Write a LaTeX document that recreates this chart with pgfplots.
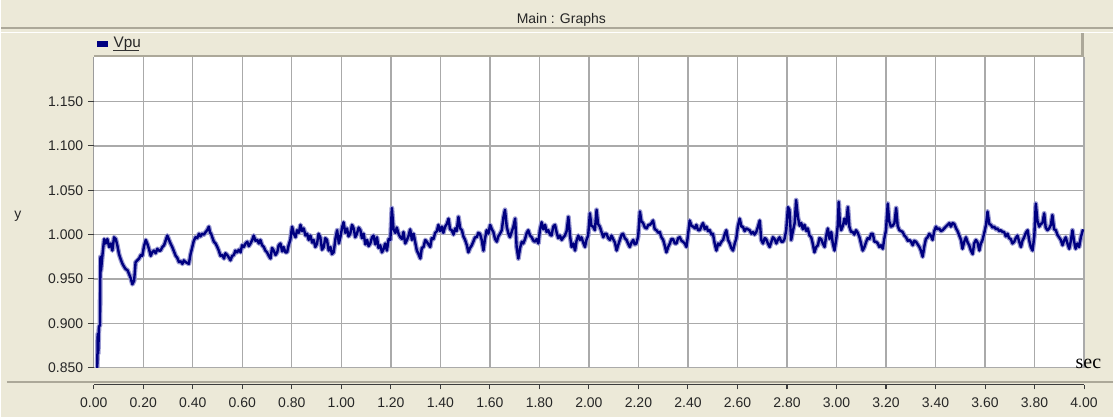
\documentclass[border=0pt]{standalone}
\usepackage{pgfplots}
\pgfplotsset{compat=1.18}
\usepackage{pgfplotstable}
\usepackage{fontspec}
\setmainfont{Liberation Sans}
\newfontfamily\secfont{Liberation Serif}

\definecolor{panel}{RGB}{236,233,216}
\definecolor{panelline}{RGB}{172,168,153}
\definecolor{gridgray}{RGB}{170,170,170}
\definecolor{vnavy}{RGB}{0,0,128}
\definecolor{vhalo}{RGB}{155,155,210}
\definecolor{axisdark}{RGB}{60,60,60}

% Vpu (per unit) against time in seconds
\pgfplotstableread{
t v
0.014 0.849
0.016 0.888
0.018 0.866
0.021 0.896
0.025 0.898
0.027 0.975
0.029 0.959
0.035 0.977
0.042 0.995
0.048 0.990
0.055 0.995
0.062 0.986
0.069 0.990
0.075 0.982
0.082 0.997
0.089 0.995
0.095 0.988
0.102 0.978
0.109 0.972
0.116 0.967
0.122 0.964
0.129 0.961
0.136 0.960
0.142 0.956
0.149 0.951
0.156 0.944
0.163 0.948
0.169 0.969
0.176 0.971
0.183 0.973
0.190 0.977
0.196 0.976
0.203 0.987
0.210 0.994
0.216 0.990
0.223 0.984
0.230 0.976
0.236 0.980
0.243 0.982
0.250 0.979
0.257 0.984
0.263 0.982
0.270 0.982
0.277 0.986
0.284 0.988
0.290 0.993
0.297 0.999
0.304 0.994
0.310 0.990
0.317 0.986
0.324 0.981
0.331 0.976
0.337 0.974
0.344 0.969
0.351 0.970
0.358 0.967
0.364 0.971
0.371 0.969
0.378 0.968
0.384 0.967
0.391 0.978
0.398 0.986
0.404 0.993
0.411 0.997
0.418 0.996
0.425 1.001
0.431 0.998
0.438 1.001
0.445 1.000
0.452 1.003
0.458 1.005
0.465 1.009
0.470 1.002
0.474 1.001
0.480 0.996
0.485 0.992
0.492 0.990
0.499 0.986
0.505 0.982
0.512 0.976
0.519 0.977
0.526 0.973
0.532 0.979
0.539 0.977
0.546 0.974
0.552 0.971
0.559 0.976
0.566 0.977
0.572 0.982
0.579 0.980
0.586 0.983
0.593 0.980
0.599 0.988
0.606 0.986
0.613 0.990
0.620 0.992
0.626 0.987
0.633 0.990
0.640 0.994
0.646 0.999
0.653 0.993
0.660 0.994
0.667 0.990
0.673 0.994
0.680 0.988
0.687 0.986
0.693 0.982
0.700 0.980
0.707 0.976
0.714 0.973
0.720 0.985
0.727 0.982
0.734 0.977
0.741 0.980
0.747 0.988
0.754 0.990
0.761 0.981
0.767 0.986
0.774 0.980
0.781 0.980
0.787 0.988
0.794 0.994
0.801 1.009
0.808 1.001
0.815 0.997
0.821 1.005
0.828 1.002
0.835 1.011
0.841 1.004
0.848 1.007
0.855 0.999
0.862 1.001
0.868 0.994
0.875 0.999
0.882 0.991
0.888 0.994
0.895 0.986
0.902 0.990
0.908 1.001
0.915 0.997
0.922 0.983
0.929 0.986
0.935 0.996
0.942 0.994
0.949 0.982
0.956 0.986
0.962 0.978
0.969 0.980
0.976 0.995
0.983 1.005
0.990 0.990
0.996 0.997
1.003 1.008
1.009 1.014
1.016 1.002
1.023 1.007
1.029 0.998
1.036 1.001
1.043 1.011
1.050 1.007
1.056 0.997
1.063 1.001
1.070 1.008
1.077 1.005
1.083 0.996
1.090 1.001
1.097 0.989
1.104 0.994
1.110 0.987
1.117 0.990
1.124 0.997
1.130 0.999
1.137 0.989
1.144 0.997
1.150 0.985
1.157 0.988
1.164 0.980
1.171 0.984
1.177 0.990
1.184 0.982
1.191 0.995
1.198 0.994
1.204 1.030
1.211 1.006
1.218 1.002
1.224 1.008
1.231 1.001
1.238 0.997
1.245 0.995
1.251 1.003
1.258 0.990
1.265 0.994
1.272 0.999
1.278 1.006
1.285 0.994
1.292 1.001
1.298 0.992
1.305 0.982
1.312 0.978
1.319 0.973
1.325 0.985
1.332 0.986
1.339 0.994
1.345 0.992
1.352 0.989
1.359 0.986
1.365 0.996
1.372 0.995
1.379 1.002
1.386 1.004
1.392 1.011
1.399 1.004
1.406 1.009
1.412 1.002
1.419 1.009
1.426 1.012
1.433 1.018
1.439 1.006
1.446 1.005
1.453 1.000
1.460 1.007
1.466 1.004
1.473 1.020
1.480 1.007
1.487 1.005
1.493 0.998
1.500 0.994
1.507 0.988
1.513 0.980
1.520 0.985
1.527 0.988
1.533 0.992
1.540 0.997
1.547 0.997
1.553 1.002
1.560 1.001
1.567 0.994
1.574 0.982
1.580 0.995
1.587 1.005
1.594 1.001
1.601 1.011
1.608 1.006
1.614 1.003
1.621 0.995
1.628 0.992
1.634 0.998
1.641 1.001
1.648 1.005
1.655 1.020
1.661 1.028
1.668 1.009
1.675 1.001
1.681 0.997
1.688 1.003
1.695 1.009
1.702 1.018
1.708 0.986
1.715 0.973
1.722 0.985
1.729 0.992
1.735 0.990
1.742 0.995
1.749 1.002
1.755 1.005
1.762 0.999
1.769 0.997
1.776 0.993
1.782 0.992
1.789 0.995
1.796 0.990
1.802 1.005
1.809 1.014
1.816 1.006
1.823 1.011
1.829 1.003
1.836 1.005
1.843 1.000
1.849 0.999
1.856 1.009
1.863 1.011
1.870 1.002
1.876 0.996
1.883 0.999
1.890 0.994
1.897 0.997
1.903 0.999
1.910 1.004
1.917 1.020
1.924 0.998
1.930 0.986
1.937 0.990
1.944 0.982
1.950 0.993
1.957 0.999
1.964 0.994
1.970 0.997
1.977 0.991
1.984 0.986
1.990 0.994
1.997 0.999
2.004 1.024
2.010 1.010
2.017 1.009
2.024 1.005
2.031 1.028
2.037 1.012
2.044 1.009
2.051 1.003
2.058 0.997
2.064 1.001
2.071 1.001
2.078 0.996
2.085 0.994
2.091 0.999
2.098 0.995
2.105 0.991
2.112 0.982
2.118 0.988
2.125 0.994
2.132 1.000
2.138 1.001
2.145 0.996
2.152 0.994
2.158 0.990
2.165 0.986
2.172 0.991
2.179 0.994
2.185 0.989
2.192 0.990
2.199 0.998
2.206 1.026
2.212 1.015
2.219 1.013
2.226 1.008
2.233 1.007
2.240 1.011
2.246 1.011
2.253 1.013
2.259 1.016
2.266 1.006
2.273 1.005
2.280 1.002
2.286 1.003
2.293 0.997
2.300 0.994
2.306 0.988
2.313 0.980
2.320 0.986
2.327 0.990
2.333 0.995
2.340 0.995
2.347 0.990
2.354 0.990
2.360 0.996
2.367 0.997
2.374 0.993
2.380 0.992
2.387 0.990
2.394 0.986
2.400 0.999
2.407 1.016
2.414 1.010
2.421 1.009
2.428 1.007
2.434 1.011
2.441 1.005
2.448 1.005
2.455 1.010
2.461 1.013
2.468 1.006
2.475 1.009
2.481 1.004
2.488 1.005
2.495 1.000
2.501 1.001
2.508 0.990
2.515 0.982
2.522 0.990
2.528 0.988
2.535 0.992
2.542 0.994
2.548 1.000
2.555 1.005
2.562 0.994
2.569 0.990
2.575 0.985
2.582 0.982
2.589 0.990
2.595 0.995
2.602 1.010
2.609 1.018
2.616 1.009
2.622 1.009
2.629 1.004
2.636 1.007
2.642 1.006
2.649 1.005
2.656 1.001
2.663 1.003
2.669 1.000
2.676 1.003
2.683 1.009
2.690 1.016
2.696 0.994
2.703 0.990
2.710 0.996
2.716 0.995
2.723 0.990
2.730 0.986
2.737 0.992
2.743 0.997
2.750 0.995
2.757 0.990
2.763 0.994
2.770 0.997
2.777 0.992
2.784 0.992
2.790 0.995
2.797 1.005
2.804 1.031
2.810 1.028
2.817 0.994
2.824 1.004
2.831 1.013
2.837 1.039
2.844 1.020
2.851 1.010
2.858 1.013
2.864 1.006
2.871 1.011
2.878 1.004
2.884 1.007
2.891 0.999
2.898 0.997
2.904 0.990
2.911 0.980
2.918 0.986
2.925 0.988
2.931 0.996
2.938 0.995
2.945 0.990
2.952 0.986
2.958 0.998
2.965 1.007
2.972 0.995
2.979 1.003
2.985 0.990
2.992 0.982
2.999 0.995
3.005 1.010
3.009 1.037
3.014 1.012
3.019 1.005
3.026 1.010
3.032 1.018
3.039 1.012
3.046 1.031
3.052 1.009
3.059 1.003
3.066 1.003
3.072 1.000
3.079 1.005
3.086 1.002
3.093 0.997
3.099 0.990
3.106 0.982
3.113 0.986
3.120 0.992
3.126 0.996
3.133 0.995
3.140 1.001
3.147 1.001
3.153 0.992
3.160 0.992
3.167 0.990
3.173 0.986
3.180 0.988
3.187 0.984
3.193 0.995
3.200 1.005
3.207 1.035
3.213 1.015
3.220 1.009
3.227 1.010
3.234 1.013
3.241 1.030
3.247 1.010
3.254 1.005
3.261 1.004
3.267 1.003
3.274 0.999
3.281 0.997
3.288 0.993
3.294 0.994
3.301 0.992
3.308 0.988
3.314 0.993
3.321 0.992
3.328 0.989
3.335 0.986
3.341 0.982
3.348 0.975
3.355 0.987
3.361 0.995
3.368 0.997
3.375 1.001
3.381 0.999
3.388 0.994
3.395 1.004
3.402 1.009
3.408 1.006
3.415 1.007
3.422 1.004
3.429 1.005
3.435 1.007
3.442 1.009
3.449 1.011
3.456 1.013
3.462 1.009
3.469 1.013
3.476 1.012
3.483 1.007
3.489 1.004
3.496 0.999
3.503 0.994
3.509 0.984
3.516 0.992
3.523 0.997
3.530 0.991
3.536 0.988
3.543 0.982
3.550 0.978
3.556 0.990
3.563 0.994
3.570 0.991
3.577 0.982
3.583 0.990
3.590 0.994
3.597 1.002
3.604 1.011
3.610 1.026
3.617 1.012
3.624 1.011
3.630 1.008
3.637 1.009
3.644 1.006
3.650 1.007
3.657 1.004
3.664 1.005
3.670 1.003
3.677 1.003
3.684 0.998
3.691 1.001
3.697 0.996
3.704 0.995
3.711 0.990
3.718 0.992
3.724 0.996
3.731 0.999
3.738 0.992
3.745 0.986
3.751 0.993
3.758 0.997
3.765 1.002
3.772 1.005
3.778 0.994
3.785 0.986
3.792 0.982
3.799 0.998
3.805 1.035
3.812 1.015
3.819 1.009
3.825 1.012
3.832 1.013
3.839 1.024
3.845 1.008
3.852 1.005
3.859 1.007
3.866 1.011
3.872 1.022
3.879 1.006
3.886 1.005
3.892 1.000
3.899 0.997
3.906 0.994
3.913 0.988
3.919 0.993
3.926 0.997
3.933 0.990
3.940 0.984
3.946 0.992
3.953 1.005
3.960 0.992
3.966 0.984
3.973 0.990
3.980 0.986
3.987 0.997
3.996 1.006
}\vpudata

\begin{document}
\begin{tikzpicture}
    % panel: 1114 x 418 px at 0.75pt per px
    \fill[panel] (0,0) rectangle (835.5pt,313.5pt);
    % title bar
    \node[font=\fontsize{10.5}{12}\selectfont, text=black!85] at (421pt,298.8pt) {Main : Graphs};
    \draw[panelline, line width=1.4pt] (0,292.5pt) -- (835.5pt,292.5pt);
    \draw[white, line width=1pt] (0,289pt) -- (835.5pt,289pt);
    % legend bar
    \fill[panel] (69.75pt,270.75pt) rectangle (812.6pt,288pt);
    \draw[panelline, line width=2.3pt] (812.6pt,288.5pt) -- (812.6pt,270.75pt) -- (69.75pt,270.75pt);
    \fill[vnavy] (72.5pt,278.5pt) rectangle (80.5pt,282.8pt);
    \node[anchor=base west, inner sep=0pt, font=\fontsize{11.5}{13}\selectfont, text=black!85]
        at (84.5pt,277.5pt) {Vpu};
    \draw[black!80, line width=0.6pt] (84.5pt,275.6pt) -- (104pt,275.6pt);
    % separator above the time axis
    \draw[panelline, line width=1.5pt] (4.5pt,26.6pt) -- (835.5pt,26.6pt);

    \begin{axis}[
        at={(69.75pt,37.275pt)},
        anchor=south west,
        scale only axis,
        width=744pt,
        height=233.25pt,
        xmin=0, xmax=4,
        ymin=0.85, ymax=1.2,
        axis background/.style={fill=white},
        axis line style={draw=none},
        xtick={0,0.2,0.4,0.6,0.8,1,1.2,1.4,1.6,1.8,2,2.2,2.4,2.6,2.8,3,3.2,3.4,3.6,3.8,4},
        xticklabels={},
        xtick style={draw=none},
        ytick={0.85,0.9,0.95,1,1.05,1.1,1.15},
        ytick pos=left,
        tick align=outside,
        major tick length=4.5pt,
        ytick style={axisdark, line width=0.8pt},
        yticklabel style={
            /pgf/number format/.cd, fixed, fixed zerofill, precision=3,
            assume math mode=true,
        },
        ticklabel style={font=\fontsize{10.5}{12}\selectfont, text=black!85},
        grid=major,
        major grid style={gridgray, line width=1pt},
        clip=true,
    ]
        \addplot[vhalo, line width=3.6pt, line join=round] table[x=t, y=v] {\vpudata};
        \addplot[vnavy, line width=1.8pt, line join=round] table[x=t, y=v] {\vpudata};
        \draw[axisdark, line width=0.9pt] (axis cs:0,0.85) -- (axis cs:0,1.2);
    \end{axis}

    % time axis, drawn below the separator
    \begin{axis}[
        at={(69.75pt,24.375pt)},
        anchor=south west,
        scale only axis,
        width=744pt,
        height=8pt,
        xmin=0, xmax=4,
        ymin=0, ymax=1,
        axis x line*=bottom,
        hide y axis,
        x axis line style={axisdark, line width=0.9pt},
        xtick={0,0.2,0.4,0.6,0.8,1,1.2,1.4,1.6,1.8,2,2.2,2.4,2.6,2.8,3,3.2,3.4,3.6,3.8,4},
        tick align=outside,
        major tick length=3.5pt,
        xtick style={axisdark, line width=0.8pt},
        xticklabel style={
            /pgf/number format/.cd, fixed, fixed zerofill, precision=2,
            assume math mode=true,
        },
        ticklabel style={font=\fontsize{10.5}{12}\selectfont, text=black!85, yshift=-3pt},
    ]
    \end{axis}

    % axis captions
    \node[font=\fontsize{10.5}{12}\selectfont, text=black!85] at (12.75pt,151pt) {y};
    \node[font=\secfont\fontsize{15}{17}\selectfont] at (817pt,40pt) {sec};
\end{tikzpicture}
\end{document}
